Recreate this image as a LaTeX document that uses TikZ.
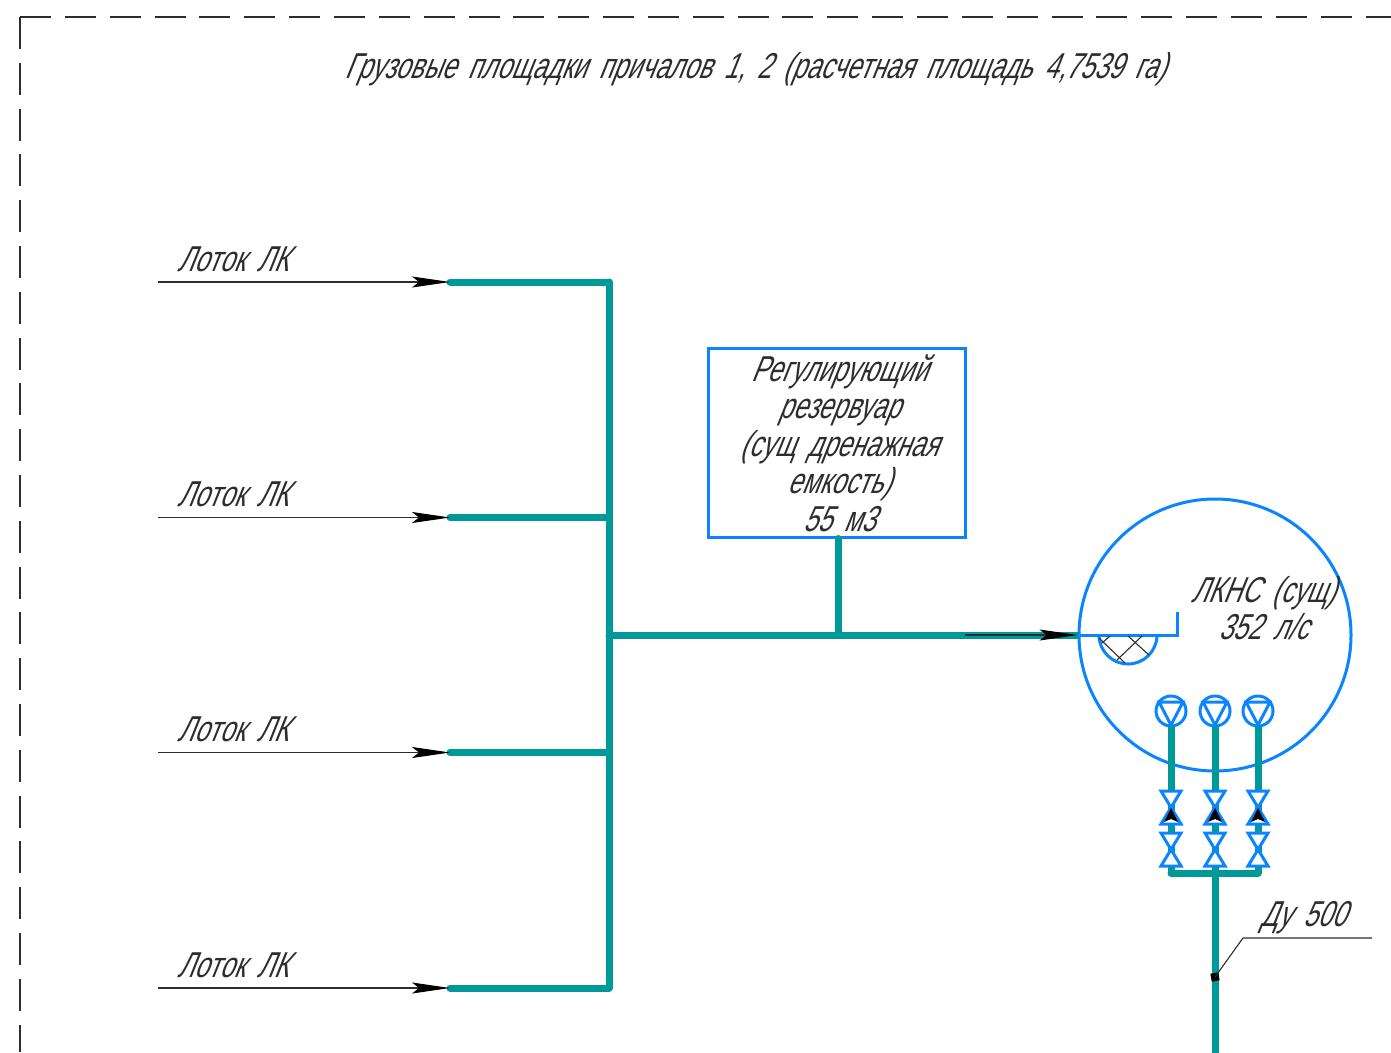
\documentclass[tikz,border=0pt]{standalone}
\usepackage{fontspec}
\setmainfont[FakeSlant=0.4,FakeStretch=0.71,WordSpace=1.7]{Liberation Sans}
\usetikzlibrary{arrows.meta}
\definecolor{pipeteal}{RGB}{0,153,153}
\definecolor{lineblue}{RGB}{10,132,255}
\definecolor{inkgray}{RGB}{45,45,45}
\tikzset{
  pipe/.style={draw=pipeteal, line width=7pt, line cap=round, line join=round},
  blueline/.style={draw=lineblue, line width=3pt},
  thinline/.style={draw=inkgray, line width=1.1pt},
  flowtip/.style={-{Stealth[length=38pt, width=11pt, inset=7pt, black]}},
  gosttext/.style={text=inkgray, inner sep=0pt, font=\fontsize{36}{37.5}\selectfont, align=center}
}
\begin{document}
\begin{tikzpicture}[x=1pt, y=-1pt]
  \useasboundingbox (0,0) rectangle (1391,1052);
  %% Dashed border runs off the sheet to the right and to the bottom.
  \coordinate (corner) at (20,17);
  \coordinate (borderright) at (1391,17);
  \coordinate (borderbottom) at (20,1052);
  \draw[thinline, line width=1.6pt, dash pattern=on 31pt off 13.85pt] (corner) -- (borderright);
  \draw[thinline, line width=1.6pt, dash pattern=on 32pt off 13.8pt] (corner) -- (borderbottom);

  \node[gosttext] (title) at (755,69) {Грузовые площадки причалов 1, 2 (расчетная площадь 4,7539 га)};

  %% Collector and the four trays coming into it.
  \coordinate (coltop) at (609,282);
  \coordinate (colbot) at (609,988);
  \coordinate (colmid) at (609,635);
  \draw[pipe] (coltop) -- (colbot);
  \foreach \n/\y in {1/282, 2/517.5, 3/752.5, 4/988} {
    \coordinate (trayfree\n) at (158,\y);
    \coordinate (traystart\n) at (450,\y);
    \coordinate (trayend\n) at (609,\y);
    \draw[pipe] (traystart\n) -- (trayend\n);
    \draw[thinline, flowtip] (trayfree\n) -- (traystart\n);
    \node[gosttext, anchor=west] (traylabel\n) at (177,\y-23) {Лоток ЛК};
  }

  %% Reservoir box above the main pipe.
  \node[blueline, fill=white, minimum width=257pt, minimum height=189pt, inner sep=0pt]
    (reservoir) at (836.5,442.5) {};
  \node[gosttext] (reservoirtext) at (839,443)
    {Регулирующий\\резервуар\\(сущ дренажная\\емкость)\\55 м3};
  \coordinate (teeres) at (838,635);
  \draw[pipe] (reservoir.south -| teeres) -- (teeres);

  %% Pumping station.
  \node[blueline, circle, minimum size=272pt, inner sep=0pt] (station) at (1215,635) {};
  \node[gosttext] (stationtext) at (1263,608) {ЛКНС (сущ)\\352 л/с};
  \coordinate (inlet) at (station.west);
  \coordinate (arrowfree) at (965,635);
  \draw[pipe] (colmid) -- (inlet);
  \draw[thinline, flowtip] (arrowfree) -- (inlet);
  \coordinate (weirend) at (1177,635);
  \coordinate (weirtop) at (1177,612);
  \draw[blueline] (inlet) -- (weirend) -- (weirtop);
  \draw[blueline] (1099,635) arc[start angle=180, end angle=0, radius=29];
  \draw[thinline] (1099,638) -- (1125,663);
  \draw[thinline] (1128,636) -- (1149,655);
  \draw[thinline] (1142,636) -- (1117,660);
  \draw[thinline] (1110,636) -- (1102,643);

  %% Three pumps, each with two valves and a check arrow.
  \coordinate (headerleft) at (1171,873);
  \coordinate (headerright) at (1258,873);
  \coordinate (outlet) at (1215,1056);
  \coordinate (headermid) at (1215,873);
  \foreach \n/\x in {1/1171, 2/1215, 3/1258} {
    \node[blueline, circle, minimum size=30pt, inner sep=0pt, fill=white] (pump\n) at (\x,711) {};
    \coordinate (riser\n) at (\x,873);
    \draw[pipe] (pump\n.south) -- (riser\n);
    \draw[blueline] (\x-12,702) -- (\x+12,702) -- (\x,725) -- cycle;
    \foreach \t in {791,833} {
      \draw[blueline, fill=white, line join=miter]
        (\x-10,\t) -- (\x+10,\t) -- (\x-10,\t+33) -- (\x+10,\t+33) -- cycle;
    }
    \fill[black] (\x,808) -- (\x+7,822) -- (\x,819) -- (\x-7,822) -- cycle;
  }
  \draw[pipe] (headerleft) -- (headerright);
  \begin{scope}
    \clip (0,0) rectangle (1391,1052);
    \draw[pipe] (headermid) -- (outlet);
  \end{scope}

  %% Diameter callout.
  \node[fill=black, minimum size=8pt, inner sep=0pt, rotate=10] (mark) at (1215,977) {};
  \coordinate (leaderbend) at (1243,938);
  \coordinate (leaderend) at (1372,938);
  \draw[thinline] (mark.center) -- (leaderbend) -- (leaderend);
  \node[gosttext, anchor=west] (dnlabel) at (1260,918) {Ду 500};
\end{tikzpicture}
\end{document}
